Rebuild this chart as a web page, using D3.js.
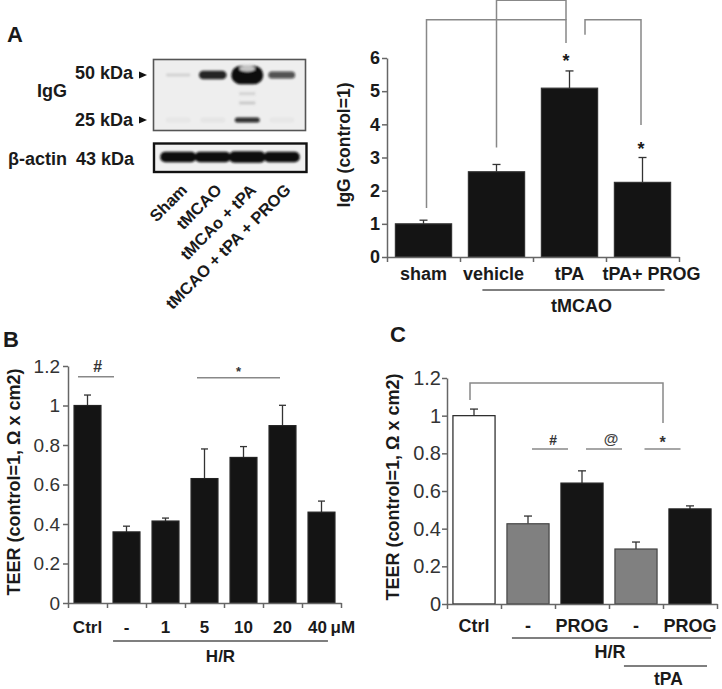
<!DOCTYPE html>
<html><head><meta charset="utf-8">
<script src="https://cdn.jsdelivr.net/npm/d3@7"></script>
<style>
body{margin:0;background:#fff}
svg{display:block}
</style></head><body>
<svg id="fig" width="722" height="689"></svg>
<script>
// ================= DATA =================
// Panel A – western blot (relative band signal per lane)
const blotLanes = ["Sham", "tMCAO", "tMCAo + tPA", "tMCAO + tPA + PROG"];
const igg50Signal = [0.12, 0.9, 2.3, 0.7];
const igg25Signal = [0.03, 0.04, 0.85, 0.03];
const actinSignal = [1, 1, 1.1, 1];
// Panel A – IgG bar chart
const aCats = ["sham", "vehicle", "tPA", "tPA+ PROG"];
const aVals = [1.0, 2.57, 5.09, 2.25];
const aSem  = [0.11, 0.22, 0.52, 0.75];
const aTicks = [0, 1, 2, 3, 4, 5, 6];
// Panel B – TEER dose response
const bCats = ["Ctrl", "-", "1", "5", "10", "20", "40"];
const bVals = [1.0, 0.36, 0.415, 0.63, 0.737, 0.898, 0.46];
const bSem  = [0.053, 0.029, 0.015, 0.15, 0.055, 0.103, 0.056];
const bTicks = [0, 0.2, 0.4, 0.6, 0.8, 1, 1.2];
// Panel C – TEER with tPA
const cCats = ["Ctrl", "-", "PROG", "- ", "PROG "];
const cLabels = ["Ctrl", "-", "PROG", "-", "PROG"];
const cVals = [1.0, 0.426, 0.642, 0.292, 0.505];
const cSem  = [0.035, 0.041, 0.065, 0.037, 0.016];
const cTicks = [0, 0.2, 0.4, 0.6, 0.8, 1, 1.2];

// ================= DRAWING =================
const FONT = '"Liberation Sans", Arial, Helvetica, sans-serif';
const svg = d3.select("#fig");
const defs = svg.append("defs");
defs.append("filter").attr("id", "blur").attr("x", "-50%").attr("y", "-100%")
  .attr("width", "200%").attr("height", "300%")
  .append("feGaussianBlur").attr("stdDeviation", 1.3);

function txt(x, y, s, o = {}) {
  return svg.append("text").attr("x", x).attr("y", y).text(s)
    .attr("font-family", FONT).attr("font-size", o.fs || 18)
    .attr("font-weight", o.fw || "bold").attr("fill", o.fill || "#1a1a1a")
    .attr("text-anchor", o.anchor || "start")
    .attr("font-style", o.italic ? "italic" : "normal");
}

// ---------- Panel letters ----------
txt(7, 42, "A", {fs: 22});
txt(3, 347, "B", {fs: 22});
txt(390, 342, "C", {fs: 22});

// ---------- Panel A blot ----------
const lane = d3.scaleBand().domain(blotLanes).range([161, 299]);
const lc = d => lane(d) + lane.bandwidth() / 2;
const kda = d3.scaleLog().domain([50, 25]).range([75, 120]);

svg.append("rect").attr("x", 153.5).attr("y", 59.5).attr("width", 152).attr("height", 71)
  .attr("fill", "#eeeeee").attr("stroke", "#555").attr("stroke-width", 1.6);
const gb = svg.append("g").attr("filter", "url(#blur)");
blotLanes.forEach((d, i) => {
  const s = igg50Signal[i];
  const rx = 12 + 2 * Math.min(s, 2);
  const ry = 1 + 3.6 * s;
  gb.append("rect").attr("x", lc(d) - rx).attr("y", kda(50) - ry).attr("width", 2 * rx).attr("height", 2 * ry)
    .attr("rx", Math.min(ry, rx)).attr("fill", "#0d0d0d").attr("opacity", Math.min(1, s));
  if (s > 1.5) {
    gb.append("ellipse").attr("cx", lc(d)).attr("cy", kda(50) - ry + 3).attr("rx", 8).attr("ry", 3)
      .attr("fill", "#c4c4c4");
    // degradation products
    [37.5, 32.5].forEach((k, j) => gb.append("rect").attr("x", lc(d) - 8).attr("y", kda(k) - 1.5)
      .attr("width", 16).attr("height", 3).attr("fill", "#777").attr("opacity", 0.22 + 0.08 * j));
  }
  const s2 = igg25Signal[i];
  gb.append("rect").attr("x", lc(d) - 12.5).attr("y", kda(25) - 2.5).attr("width", 25).attr("height", 5)
    .attr("rx", 2.5).attr("fill", "#0d0d0d").attr("opacity", s2);
});
// arrows
[50, 25].forEach(k => svg.append("path")
  .attr("d", `M139,${kda(k) - 3.5} L147,${kda(k)} L139,${kda(k) + 3.5} Z`).attr("fill", "#111"));
txt(133, kda(50) + 4, "50 kDa", {anchor: "end"});
txt(133, kda(25) + 6, "25 kDa", {anchor: "end"});
txt(37, 97, "IgG");

// beta-actin blot
svg.append("rect").attr("x", 154).attr("y", 143.5).attr("width", 152.5).attr("height", 28.5)
  .attr("fill", "#f0f0f0").attr("stroke", "#111").attr("stroke-width", 2.4);
const ga = svg.append("g").attr("filter", "url(#blur)");
blotLanes.forEach((d, i) => {
  const h = 10.5 * actinSignal[i];
  ga.append("rect").attr("x", lc(d) - 18).attr("y", 157 - h / 2).attr("width", 36).attr("height", h)
    .attr("rx", 5).attr("fill", "#0d0d0d");
});
txt(8, 165, "β-actin");
txt(134, 165, "43 kDa", {anchor: "end"});

// lane labels
blotLanes.forEach(d => {
  svg.append("text").attr("transform", `translate(${lc(d) + 10},191) rotate(-45)`)
    .attr("text-anchor", "end").attr("font-family", FONT).attr("font-size", 16.5)
    .attr("font-weight", "bold").attr("fill", "#1a1a1a").text(d);
});

// ---------- generic bar panel ----------
function barPanel(o) {
  const g = svg.append("g");
  const x = d3.scaleBand().domain(o.cats).range(o.xr).paddingInner(o.pi).paddingOuter(o.pi / 2);
  const y = d3.scaleLinear().domain(o.yd).range(o.yr);
  const cx = d => x(d) + x.bandwidth() / 2;
  // error bars
  o.cats.forEach((d, i) => {
    const top = y(o.vals[i] + o.sem[i]);
    g.append("line").attr("x1", cx(d)).attr("x2", cx(d)).attr("y1", y(o.vals[i])).attr("y2", top)
      .attr("stroke", "#333").attr("stroke-width", 1.3);
    g.append("line").attr("x1", cx(d) - o.cap).attr("x2", cx(d) + o.cap).attr("y1", top).attr("y2", top)
      .attr("stroke", "#333").attr("stroke-width", 1.3);
  });
  // bars
  g.selectAll("rect.bar").data(o.cats).join("rect").attr("class", "bar")
    .attr("x", d => x(d)).attr("width", x.bandwidth())
    .attr("y", (d, i) => y(o.vals[i])).attr("height", (d, i) => y(0) - y(o.vals[i]))
    .attr("fill", (d, i) => o.fills[i]).attr("stroke", (d, i) => o.strokes[i]).attr("stroke-width", 1.2);
  // y axis
  const ya = g.append("g").attr("transform", `translate(${o.xr[0]},0)`)
    .call(d3.axisLeft(y).tickValues(o.ticks).tickSize(5).tickSizeOuter(0).tickPadding(o.tp).tickFormat(d => String(d)));
  ya.select(".domain").attr("stroke", "#666").attr("stroke-width", 1.5);
  ya.selectAll(".tick line").attr("stroke", "#666").attr("stroke-width", 1.5);
  ya.selectAll(".tick text").attr("font-family", FONT).attr("font-size", o.tfs)
    .attr("font-weight", o.tfw).attr("fill", o.tfill);
  // x axis (ticks at category boundaries)
  const xl = d3.scaleLinear().domain([0, o.cats.length]).range(o.xr);
  const xa = g.append("g").attr("transform", `translate(0,${o.yr[0]})`)
    .call(d3.axisBottom(xl).tickValues(d3.range(o.cats.length + 1)).tickSize(5).tickSizeOuter(0).tickFormat(""));
  xa.select(".domain").attr("stroke", "#666").attr("stroke-width", 1.5);
  xa.selectAll(".tick line").attr("stroke", "#666").attr("stroke-width", 1.5);
  // category labels
  o.cats.forEach((d, i) => txt(cx(d) + (o.ldx ? o.ldx[i] : 0), o.ly, o.labels[i], {fs: o.lfs, anchor: "middle"}));
  // y label
  svg.append("text").attr("transform", `translate(${o.ylx},${o.yly}) rotate(-90)`)
    .attr("text-anchor", "middle").attr("font-family", FONT).attr("font-size", o.ylfs)
    .attr("font-weight", "bold").attr("fill", "#1a1a1a").text(o.ylabel);
  return {x, y, cx, xl};
}
function gline(x1, x2, y1, y2, col = "#777") {
  svg.append("line").attr("x1", x1).attr("x2", x2).attr("y1", y1).attr("y2", y2)
    .attr("stroke", col).attr("stroke-width", 1.5);
}
function path(pts) {
  svg.append("path").attr("d", d3.line()(pts)).attr("fill", "none").attr("stroke", "#888").attr("stroke-width", 1.5);
}

// ---------- Panel A chart ----------
const A = barPanel({
  cats: aCats, labels: aCats, vals: aVals, sem: aSem, ldx: [0, -3, 0, 9],
  fills: aCats.map(() => "#141414"), strokes: aCats.map(() => "#333"),
  xr: [387, 679], yd: [0, 6], yr: [257, 58], pi: 0.23, cap: 4,
  ticks: aTicks, tp: 2, tfs: 18, tfw: "bold", tfill: "#1a1a1a",
  ly: 280, lfs: 18, ylabel: "IgG (control=1)", ylx: 350, yly: 145, ylfs: 17.5
});
// significance brackets
path([[A.cx("sham") + 3, A.y(1.48)], [A.cx("sham") + 3, A.y(7.15)], [A.cx("tPA") - 3.5, A.y(7.15)], [A.cx("tPA") - 3.5, A.y(6.45)]]);
path([[A.cx("vehicle"), A.y(3.3)], [A.cx("vehicle"), A.y(7.74)], [A.cx("tPA") - 3.5, A.y(7.74)], [A.cx("tPA") - 3.5, A.y(7.15)]]);
path([[A.cx("tPA") + 15.5, A.y(6.7)], [A.cx("tPA") + 15.5, A.y(7.15)], [A.cx("tPA+ PROG") - 1.5, A.y(7.15)], [A.cx("tPA+ PROG") - 1.5, A.y(3.98)]]);
txt(A.cx("tPA") - 3.5, A.y(aVals[2] + aSem[2]) - 3.5, "*", {anchor: "middle"});
txt(A.cx("tPA+ PROG") - 1.5, A.y(aVals[3] + aSem[3]) - 2.5, "*", {anchor: "middle"});
// tMCAO group
{
  const x1 = A.x("vehicle") + 14, x2 = A.x("tPA+ PROG") + A.x.bandwidth() - 6;
  gline(x1, x2, 290, 290, "#555");
  txt((x1 + x2) / 2 + 8, 312, "tMCAO", {anchor: "middle"});
}

// ---------- Panel B ----------
const B = barPanel({
  cats: bCats, labels: bCats, vals: bVals, sem: bSem,
  fills: bCats.map(() => "#141414"), strokes: bCats.map(() => "#222"),
  xr: [68, 341], yd: [0, 1.2], yr: [603, 366], pi: 0.31, cap: 3.5,
  ticks: bTicks, tp: 3, tfs: 19, tfw: "normal", tfill: "#333",
  ly: 633, lfs: 17, ldx: [0, 0, 0, 0, 0, 0, -4], ylabel: "TEER (control=1, Ω x cm2)", ylx: 20, yly: 482, ylfs: 18
});
txt(B.cx("40") + 9, 633, "μM", {fs: 17});
gline(B.cx("Ctrl") - 9.5, B.xl(1) + 7, B.y(1.145), B.y(1.145), "#888");
txt(B.cx("Ctrl") + 10, 372, "#", {fs: 16, anchor: "middle", italic: true, fill: "#333"});
gline(B.cx("5") - 7.5, B.cx("20") - 2.5, B.y(1.14), B.y(1.14), "#888");
txt((B.cx("5") + B.cx("20")) / 2 - 5, 376, "*", {fs: 13, anchor: "middle", fill: "#333"});
gline(B.x("-"), B.x("40") + B.x.bandwidth() - 7, 641, 641, "#555");
txt((B.x("-") + B.x("40") + B.x.bandwidth() - 7) / 2, 662, "H/R", {fs: 17, anchor: "middle"});

// ---------- Panel C ----------
const C = barPanel({
  cats: cCats, labels: cLabels, vals: cVals, sem: cSem,
  fills: ["#ffffff", "#808080", "#151515", "#808080", "#151515"],
  strokes: ["#222", "#444", "#222", "#444", "#222"],
  xr: [447, 717], yd: [0, 1.2], yr: [604, 378], pi: 0.22, cap: 4,
  ticks: cTicks, tp: 1, tfs: 20, tfw: "normal", tfill: "#333",
  ly: 632, lfs: 18, ylabel: "TEER (control=1, Ω x cm2)", ylx: 399, yly: 487, ylfs: 18
});
path([[C.cx("Ctrl") - 4, C.y(1.083)], [C.cx("Ctrl") - 4, C.y(1.174)], [C.xl(4), C.y(1.174)], [C.xl(4), C.y(0.961)]]);
[["#", 2], ["@", 3], ["*", 4]].forEach(([s, b], i) => {
  const xm = C.xl(b) - (i === 2 ? 0.5 : 5);
  gline(xm - 18, xm + 18, C.y(0.823), C.y(0.823), "#888");
  if (s === "#") txt(xm + 3, 445, s, {fs: 14, anchor: "middle", italic: true, fill: "#333"});
  if (s === "@") txt(xm + 7, 444, s, {fs: 15, anchor: "middle", fill: "#444"});
  if (s === "*") txt(xm, 448, s, {fs: 16, anchor: "middle", fill: "#333"});
});
{
  const x1 = C.x("-") + 5, x2 = C.xl(5) - 6;
  gline(x1, x2, 638, 638, "#555");
  txt(610, 658, "H/R", {fs: 18, anchor: "middle"});
  const t1 = C.x("- ") + 9, t2 = C.xl(5) - 10;
  gline(t1, t2, 666, 666, "#555");
  txt((t1 + t2) / 2 + 3, 685, "tPA", {fs: 17.5, anchor: "middle"});
}
</script>
</body></html>
